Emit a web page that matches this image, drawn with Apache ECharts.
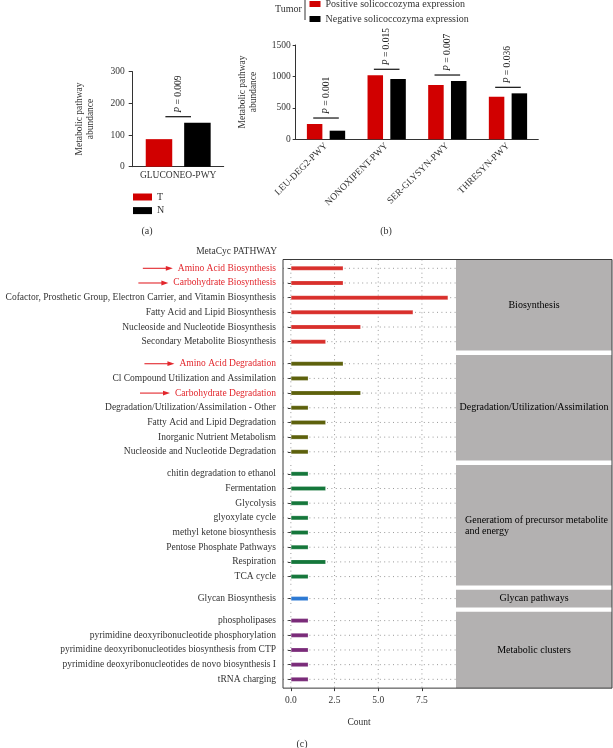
<!DOCTYPE html>
<html><head><meta charset="utf-8">
<script src="https://cdn.jsdelivr.net/npm/echarts@6/dist/echarts.min.js"></script>
<style>html,body{margin:0;padding:0;background:#fff}#c{width:613px;height:748px}</style>
</head><body><div id="c"></div>
<script>
// ---------- Panel (a) ----------
const aCategories = ['GLUCONEO-PWY'];
const aT = [87];
const aN = [139];
const aP = ['0.009'];
const aLegend = ['T', 'N'];
// ---------- Panel (b) ----------
const bCategories = ['LEU-DEG2-PWY', 'NONOXIPENT-PWY', 'SER-GLYSYN-PWY', 'THRESYN-PWY'];
const bPositive = [243, 1018, 864, 677];
const bNegative = [137, 959, 927, 731];
const bP = ['0.001', '0.015', '0.007', '0.036'];
const bLegend = ['Positive solicoccozyma expression', 'Negative solicoccozyma expression'];
// ---------- Panel (c) ----------
const cGroupNames = ['Biosynthesis', 'Degradation/Utilization/Assimilation', 'Generatiom of precursor metabolite\nand energy', 'Glycan pathways', 'Metabolic clusters'];
const cBiosynthesis = ['Amino Acid Biosynthesis', 'Carbohydrate Biosynthesis', 'Cofactor, Prosthetic Group, Electron Carrier, and Vitamin Biosynthesis', 'Fatty Acid and Lipid Biosynthesis', 'Nucleoside and Nucleotide Biosynthesis', 'Secondary Metabolite Biosynthesis'];
const cBiosynthesisCount = [3, 3, 9, 7, 4, 2];
const cDegradation = ['Amino Acid Degradation', 'Cl Compound Utilization and Assimilation', 'Carbohydrate Degradation', 'Degradation/Utilization/Assimilation - Other', 'Fatty Acid and Lipid Degradation', 'Inorganic Nutrient Metabolism', 'Nucleoside and Nucleotide Degradation'];
const cDegradationCount = [3, 1, 4, 1, 2, 1, 1];
const cGeneration = ['chitin degradation to ethanol', 'Fermentation', 'Glycolysis', 'glyoxylate cycle', 'methyl ketone biosynthesis', 'Pentose Phosphate Pathways', 'Respiration', 'TCA cycle'];
const cGenerationCount = [1, 2, 1, 1, 1, 1, 2, 1];
const cGlycan = ['Glycan Biosynthesis'];
const cGlycanCount = [1];
const cClusters = ['phospholipases', 'pyrimidine deoxyribonucleotide phosphorylation', 'pyrimidine deoxyribonucleotides biosynthesis from CTP', 'pyrimidine deoxyribonucleotides de novo biosynthesis I', 'tRNA charging'];
const cClustersCount = [1, 1, 1, 1, 1];
const cHighlighted = ['Amino Acid Biosynthesis', 'Carbohydrate Biosynthesis', 'Amino Acid Degradation', 'Carbohydrate Degradation'];
const cTicks = [0, 2.5, 5, 7.5];

// ---------- styles / layout ----------
const FONT = 'Liberation Serif';
const RED = '#d10000';
const HL = '#e2262c';
const TXT = '#333';
const facetColors = ['#d9302c', '#5d610c', '#15773b', '#2c79d3', '#7a2b79'];
const facets = [
  {names: cBiosynthesis, vals: cBiosynthesisCount},
  {names: cDegradation, vals: cDegradationCount},
  {names: cGeneration, vals: cGenerationCount},
  {names: cGlycan, vals: cGlycanCount},
  {names: cClusters, vals: cClustersCount}
];
const S = 14.68, cTop = 259.5, cGap = 4.4, cLeft = 283, cMid = 456, cRight = 612;
const xMin = -0.45, xMax = 9.45;
let yy = cTop;
const boxes = facets.map(f => { const h = (f.names.length + 0.2) * S; const b = {top: yy, h}; yy += h + cGap; return b; });
const cBottom = boxes[4].top + boxes[4].h;

const chart = echarts.init(document.getElementById('c'), null, {renderer: 'canvas'});

const grids = [
  {left: 132.7, top: 71.7, width: 91, height: 95},
  {left: 295.7, top: 45, width: 242.6, height: 94.3}
];
boxes.forEach((b, i) => grids.push({left: cLeft, top: b.top + 0.1 * S, width: cMid - cLeft, height: facets[i].names.length * S}));

const labelStyle = {fontFamily: FONT, fontSize: 9.5, color: TXT};
const axisLineStyle = {lineStyle: {color: '#333', width: 1}};
const plain = v => String(v);

const xAxes = [
  {gridIndex: 0, type: 'category', data: aCategories, axisLine: axisLineStyle, axisTick: {show: false},
   axisLabel: Object.assign({margin: 4}, labelStyle)},
  {gridIndex: 1, type: 'category', data: bCategories, axisLine: axisLineStyle,
   axisTick: {alignWithLabel: true, length: 3, lineStyle: {color: '#333'}},
   axisLabel: Object.assign({margin: 5, rotate: 45, interval: 0}, labelStyle)}
];
const yAxes = [
  {gridIndex: 0, type: 'value', min: 0, max: 300, interval: 100, axisLine: Object.assign({show: true}, axisLineStyle),
   axisTick: {show: true, length: 4, lineStyle: {color: '#333'}}, splitLine: {show: false},
   axisLabel: Object.assign({margin: 8, formatter: plain}, labelStyle)},
  {gridIndex: 1, type: 'value', min: 0, max: 1500, interval: 500, axisLine: Object.assign({show: true}, axisLineStyle),
   axisTick: {show: true, length: 3, lineStyle: {color: '#333'}}, splitLine: {show: false},
   axisLabel: Object.assign({margin: 5, formatter: plain}, labelStyle)}
];
facets.forEach((f, i) => {
  const last = i === facets.length - 1;
  xAxes.push({gridIndex: 2 + i, type: 'value', min: xMin, max: xMax, show: last, offset: 0.1 * S,
    axisLine: {show: false}, splitLine: {show: false},
    axisTick: {show: true, length: 3, customValues: cTicks, lineStyle: {color: '#333'}},
    axisLabel: Object.assign({margin: 7, customValues: cTicks, formatter: v => Number(v).toFixed(1)}, labelStyle)});
  yAxes.push({gridIndex: 2 + i, type: 'category', inverse: true, data: f.names,
    axisLine: {show: false}, splitLine: {show: false},
    axisTick: {show: true, alignWithLabel: true, length: 3, lineStyle: {color: '#333'}},
    axisLabel: Object.assign({}, labelStyle, {margin: 7, interval: 0,
      color: v => cHighlighted.indexOf(v) >= 0 ? HL : TXT})});
});

function bracketSeries(gi, cats, v1, v2, pv) {
  return {type: 'custom', xAxisIndex: gi, yAxisIndex: gi, silent: true, z: 5,
    data: cats.map((c, i) => [i, Math.max(v1[i], v2[i])]),
    renderItem(params, api) {
      const p = api.coord([api.value(0), api.value(1)]);
      const yl = p[1] - 6;
      return {type: 'group', children: [
        {type: 'line', shape: {x1: p[0] - 12.8, y1: yl, x2: p[0] + 12.8, y2: yl}, style: {stroke: '#222', lineWidth: 1.3}},
        {type: 'text', x: p[0], y: yl - 4, rotation: Math.PI / 2,
         style: {text: '{i|P} = ' + pv[params.dataIndex], fill: '#222', fontFamily: FONT, fontSize: 9.5,
           align: 'left', verticalAlign: 'middle', rich: {i: {fontStyle: 'italic', fontFamily: FONT, fontSize: 9.5, fill: '#222'}}}}
      ]};
    }};
}

function gridLineSeries(gi, names) {
  return {type: 'custom', xAxisIndex: gi, yAxisIndex: gi, silent: true, z: 1,
    data: names.map((n, i) => [0, i]),
    renderItem(params, api) {
      const cs = params.coordSys;
      const i = api.value(1);
      const p = api.coord([0, i]);
      const st = {stroke: '#9a9a9a', lineWidth: 1, lineDash: [1, 3.4]};
      const ch = [{type: 'line', shape: {x1: cs.x, y1: p[1], x2: cs.x + cs.width, y2: p[1]}, style: st}];
      if (params.dataIndex === 0) {
        cTicks.forEach(t => {
          const x = api.coord([t, 0])[0];
          ch.push({type: 'line', shape: {x1: x, y1: cs.y - 0.1 * S, x2: x, y2: cs.y + cs.height + 0.1 * S}, style: st});
        });
      }
      return {type: 'group', children: ch};
    }};
}

const series = [
  {name: aLegend[0], type: 'bar', xAxisIndex: 0, yAxisIndex: 0, data: aT, barWidth: 26.5, barGap: '45%', itemStyle: {color: RED}},
  {name: aLegend[1], type: 'bar', xAxisIndex: 0, yAxisIndex: 0, data: aN, barWidth: 26.5, barGap: '45%', itemStyle: {color: '#000'}},
  bracketSeries(0, aCategories, aT, aN, aP),
  {name: bLegend[0], type: 'bar', xAxisIndex: 1, yAxisIndex: 1, data: bPositive, barWidth: 15.5, barGap: '47%', itemStyle: {color: RED}},
  {name: bLegend[1], type: 'bar', xAxisIndex: 1, yAxisIndex: 1, data: bNegative, barWidth: 15.5, barGap: '47%', itemStyle: {color: '#000'}},
  bracketSeries(1, bCategories, bPositive, bNegative, bP)
];
facets.forEach((f, i) => {
  series.push(gridLineSeries(2 + i, f.names));
  series.push({type: 'bar', xAxisIndex: 2 + i, yAxisIndex: 2 + i, data: f.vals, barWidth: 4.6, z: 3, silent: true,
    itemStyle: {color: facetColors[i], borderColor: 'rgba(255,255,255,0.35)', borderWidth: 0.6}});
});

const txt = (text, x, y, extra) => ({type: 'text', x, y, silent: true,
  style: Object.assign({text, fill: TXT, fontFamily: FONT, fontSize: 9.5, align: 'center', verticalAlign: 'middle'}, extra || {})});

const graphics = [
  txt('Metabolic pathway\nabundance', 84.5, 119, {lineHeight: 11}),
  txt('Metabolic pathway\nabundance', 247.5, 92, {lineHeight: 11}),
  txt('(a)', 147, 231, {fontSize: 10}),
  txt('(b)', 386, 231, {fontSize: 10}),
  txt('(c)', 302, 744, {fontSize: 10}),
  txt('Tumor', 288.5, 9.5, {fontSize: 10}),
  {type: 'line', silent: true, shape: {x1: 305, y1: 0, x2: 305, y2: 20}, style: {stroke: '#333', lineWidth: 1}},
  txt('MetaCyc PATHWAY', 277, 251, {align: 'right'}),
  txt('Count', 359, 722)
];
graphics[0].rotation = Math.PI / 2;
graphics[1].rotation = Math.PI / 2;
boxes.forEach((b, i) => {
  graphics.push({type: 'rect', silent: true, z: -1, shape: {x: cMid, y: b.top, width: cRight - cMid, height: b.h}, style: {fill: '#b3b1b1'}});
  if (i === 2) graphics.push(txt(cGroupNames[i], 465, b.top + b.h / 2 + 1, {align: 'left', fill: '#000', fontSize: 10, lineHeight: 11}));
  else graphics.push(txt(cGroupNames[i], (cMid + cRight) / 2, b.top + b.h / 2, {fill: '#000', fontSize: 10}));
});
graphics.push({type: 'rect', silent: true, z: 10, shape: {x: cLeft, y: cTop, width: cRight - cLeft, height: cBottom - cTop},
  style: {fill: 'none', stroke: '#3a3a3a', lineWidth: 1}});

chart.setOption({
  animation: false,
  backgroundColor: '#fff',
  textStyle: {fontFamily: FONT},
  grid: grids,
  xAxis: xAxes,
  yAxis: yAxes,
  legend: [
    {data: aLegend, orient: 'vertical', left: 133, top: 192, padding: 0, itemWidth: 19, itemHeight: 7, itemGap: 3.6,
     icon: 'rect', selectedMode: false, textStyle: {fontFamily: FONT, fontSize: 10, color: TXT}},
    {data: bLegend, orient: 'vertical', left: 309.5, top: -1, padding: 0, itemWidth: 11, itemHeight: 6, itemGap: 5,
     icon: 'rect', selectedMode: false, textStyle: {fontFamily: FONT, fontSize: 10, color: TXT}}
  ],
  series,
  graphic: graphics
});

// arrows pointing to highlighted pathway labels
const ctx = document.createElement('canvas').getContext('2d');
ctx.font = '9.5px "' + FONT + '"';
const arrows = [];
facets.forEach((f, i) => {
  f.names.forEach(n => {
    if (cHighlighted.indexOf(n) < 0) return;
    const y = chart.convertToPixel({yAxisIndex: 2 + i}, n);
    const labelLeft = cLeft - 7 - ctx.measureText(n).width;
    const x2 = labelLeft - 5, x1 = x2 - 30;
    arrows.push({type: 'line', silent: true, shape: {x1, y1: y, x2: x2 - 5, y2: y}, style: {stroke: HL, lineWidth: 1.1}});
    arrows.push({type: 'polygon', silent: true, shape: {points: [[x2 - 7, y - 2.4], [x2, y], [x2 - 7, y + 2.4]]}, style: {fill: HL}});
  });
});
chart.setOption({graphic: graphics.concat(arrows)});
</script>
</body></html>
